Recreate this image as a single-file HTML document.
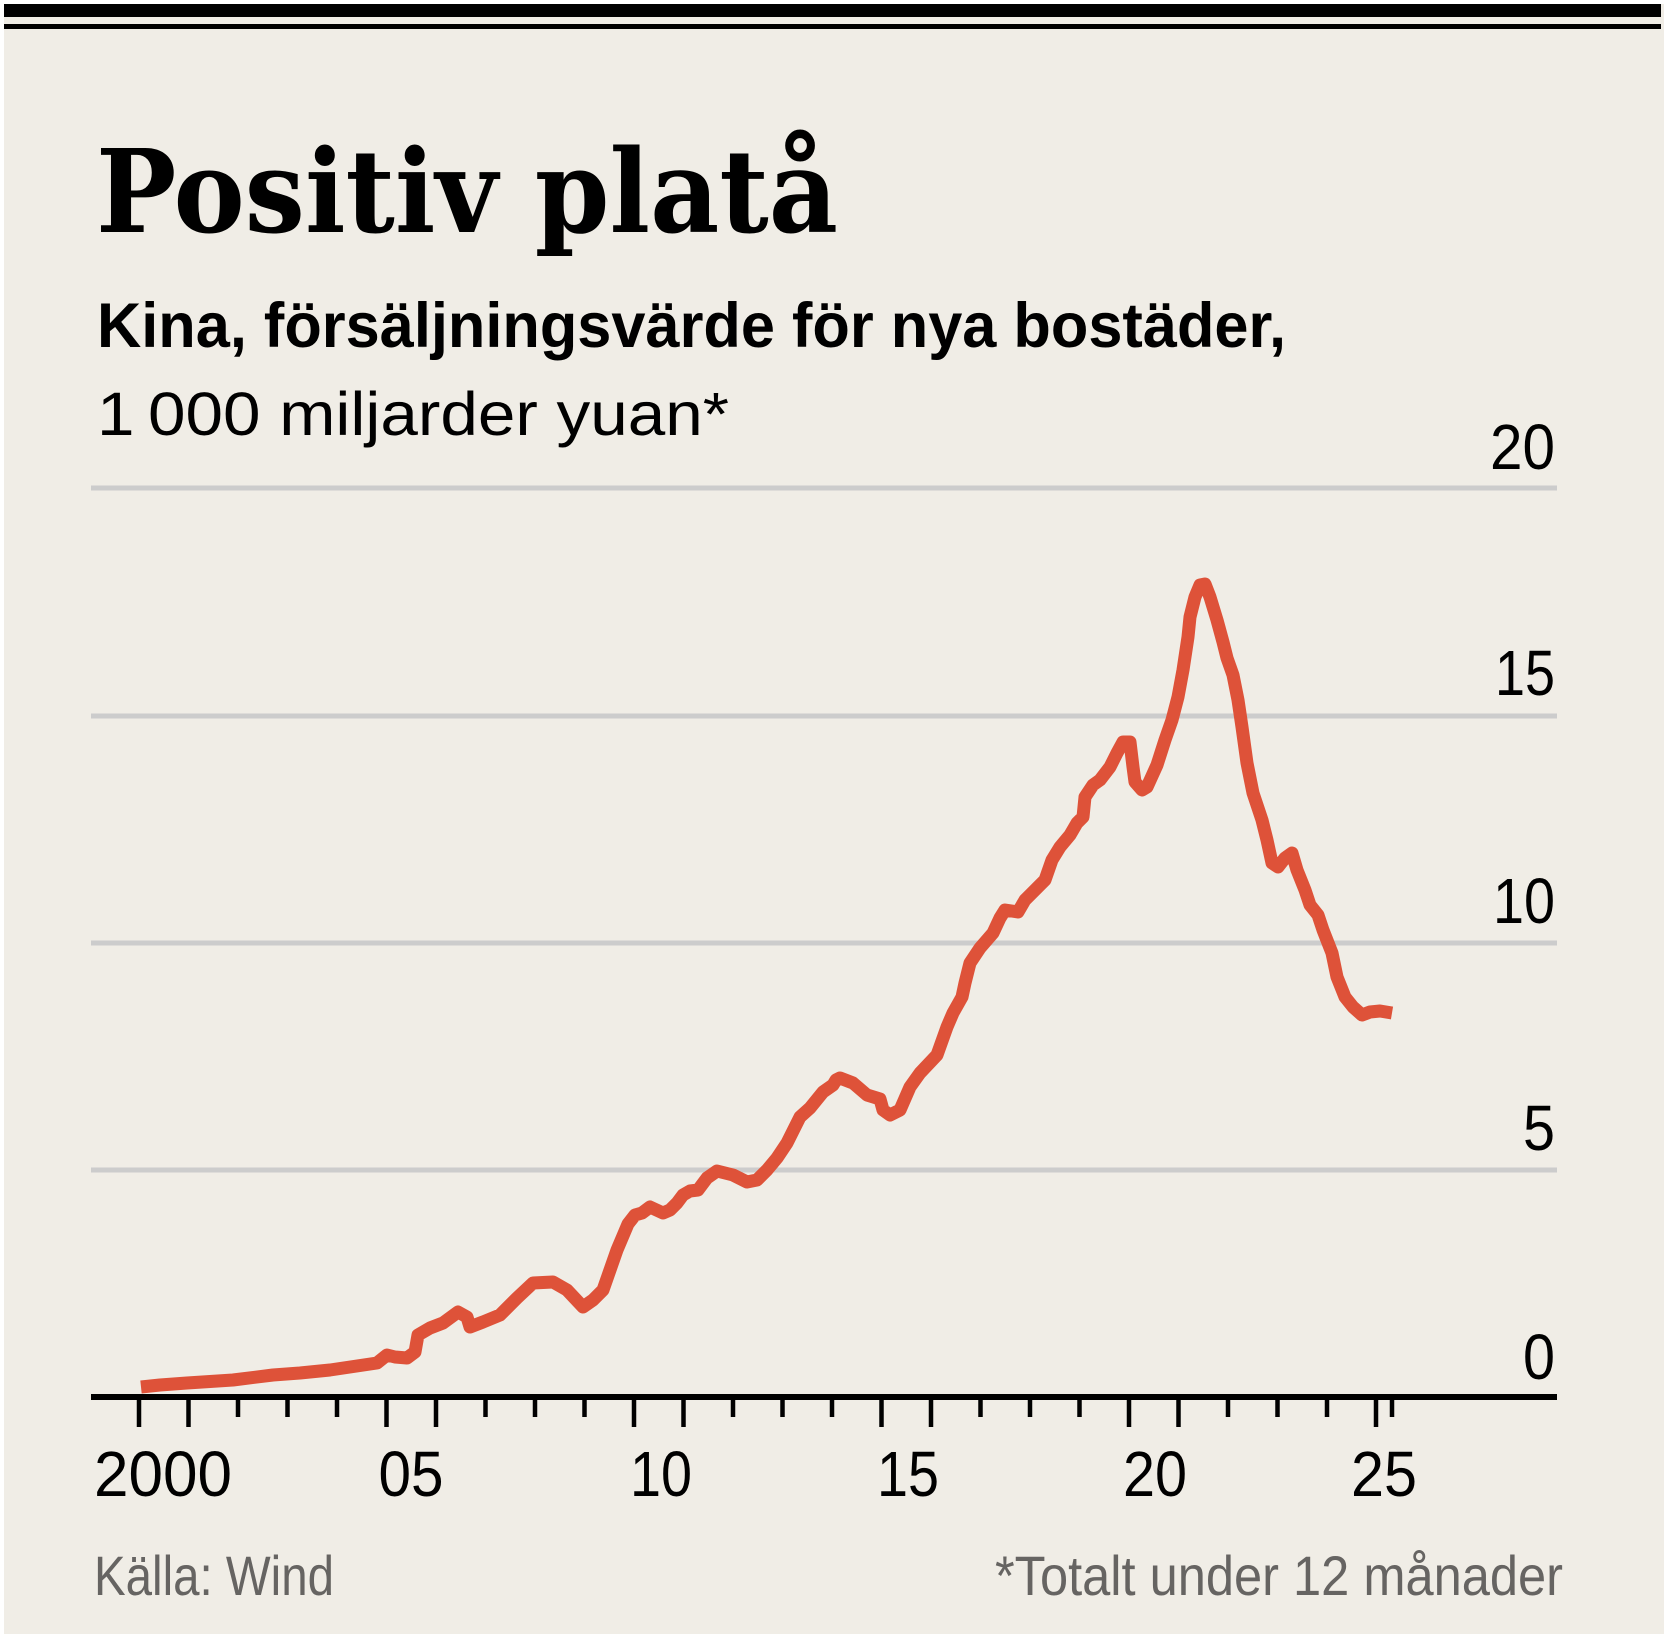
<!DOCTYPE html>
<html>
<head>
<meta charset="utf-8">
<style>
  html, body { margin: 0; padding: 0; background: #ffffff; }
  svg { display: block; }
</style>
</head>
<body>
<svg width="1670" height="1638" viewBox="0 0 1670 1638" xmlns="http://www.w3.org/2000/svg">
  <rect x="0" y="0" width="1670" height="1638" fill="#ffffff"/>
  <rect x="4" y="4" width="1660" height="1630" fill="#f0ede6"/>
  <!-- top rules -->
  <rect x="4" y="4" width="1657" height="13" fill="#000"/>
  <rect x="4" y="24" width="1657" height="5" fill="#000"/>

  <!-- title -->
  <text x="96" y="232" font-family="'DejaVu Serif', 'Liberation Serif', serif" font-weight="bold" font-size="115" textLength="742" lengthAdjust="spacingAndGlyphs" fill="#000">Positiv platå</text>
  <!-- subtitle -->
  <text x="97" y="347" font-family="'Liberation Sans', sans-serif" font-weight="bold" font-size="63" textLength="1189" lengthAdjust="spacingAndGlyphs" fill="#000">Kina, försäljningsvärde för nya bostäder,</text>
  <text x="97" y="435" font-family="'Liberation Sans', sans-serif" font-size="61" textLength="632" lengthAdjust="spacingAndGlyphs" fill="#000">1&#8201;000 miljarder yuan*</text>

  <!-- gridlines -->
  <g stroke="#cccccc" stroke-width="5">
    <line x1="91" y1="488" x2="1557" y2="488"/>
    <line x1="91" y1="716" x2="1557" y2="716"/>
    <line x1="91" y1="943" x2="1557" y2="943"/>
    <line x1="91" y1="1170" x2="1557" y2="1170"/>
  </g>

  <!-- y labels -->
  <g font-family="'Liberation Sans', sans-serif" font-size="64" fill="#000" text-anchor="end">
    <text x="1555" y="469" textLength="65" lengthAdjust="spacingAndGlyphs">20</text>
    <text x="1555" y="695" textLength="60" lengthAdjust="spacingAndGlyphs">15</text>
    <text x="1555" y="923" textLength="62" lengthAdjust="spacingAndGlyphs">10</text>
    <text x="1555" y="1150" textLength="32" lengthAdjust="spacingAndGlyphs">5</text>
    <text x="1555" y="1379" textLength="32" lengthAdjust="spacingAndGlyphs">0</text>
  </g>

  <!-- data line -->
  <polyline fill="none" stroke="#de5239" stroke-width="13" stroke-linejoin="round" stroke-linecap="butt"
    points="141,1387 160,1385 187,1383 233,1380 273,1375 300,1373 330,1370 377,1363 387,1355 395,1357 407,1358 415,1352 418,1335 430,1328 443,1323 458,1312 467,1317 470,1327 483,1322 500,1315 517,1298 533,1283 553,1282 567,1290 583,1307 593,1300 603,1290 617,1250 628,1224 635,1215 642,1213 650,1207 663,1213 670,1210 677,1203 683,1195 690,1191 698,1190 707,1178 717,1171 733,1175 747,1182 757,1180 767,1170 777,1158 787,1143 800,1117 810,1108 823,1092 833,1085 836,1080 840,1078 853,1083 867,1095 880,1099 883,1110 890,1115 900,1110 910,1087 920,1073 937,1055 947,1027 953,1013 962,997 965,983 970,963 980,948 993,933 1000,918 1005,910 1018,912 1025,900 1038,887 1045,880 1052,860 1060,847 1070,835 1077,823 1083,817 1085,797 1093,785 1100,780 1110,767 1117,753 1123,742 1130,742 1133,767 1135,782 1142,790 1147,787 1157,765 1165,740 1172,720 1178,697 1183,670 1188,637 1190,617 1195,597 1200,585 1205,584 1210,597 1217,620 1223,642 1227,658 1233,675 1238,700 1242,727 1247,763 1253,793 1262,820 1267,840 1272,863 1278,867 1285,858 1292,853 1297,870 1305,890 1310,905 1318,915 1323,930 1332,953 1337,977 1345,997 1353,1007 1362,1015 1370,1012 1380,1011 1392,1013"/>

  <!-- x axis -->
  <rect x="91" y="1394" width="1466" height="6" fill="#000"/>
  <g stroke="#000" stroke-width="4.5">
    <line x1="139" y1="1397" x2="139" y2="1427"/>
    <line x1="188.5" y1="1397" x2="188.5" y2="1427"/>
    <line x1="238" y1="1397" x2="238" y2="1417"/>
    <line x1="287.5" y1="1397" x2="287.5" y2="1417"/>
    <line x1="337" y1="1397" x2="337" y2="1417"/>
    <line x1="386.5" y1="1397" x2="386.5" y2="1427"/>
    <line x1="436" y1="1397" x2="436" y2="1427"/>
    <line x1="485.5" y1="1397" x2="485.5" y2="1417"/>
    <line x1="535" y1="1397" x2="535" y2="1417"/>
    <line x1="584.5" y1="1397" x2="584.5" y2="1417"/>
    <line x1="634" y1="1397" x2="634" y2="1427"/>
    <line x1="683.5" y1="1397" x2="683.5" y2="1427"/>
    <line x1="733" y1="1397" x2="733" y2="1417"/>
    <line x1="782.5" y1="1397" x2="782.5" y2="1417"/>
    <line x1="832" y1="1397" x2="832" y2="1417"/>
    <line x1="881.5" y1="1397" x2="881.5" y2="1427"/>
    <line x1="931" y1="1397" x2="931" y2="1427"/>
    <line x1="980.5" y1="1397" x2="980.5" y2="1417"/>
    <line x1="1030" y1="1397" x2="1030" y2="1417"/>
    <line x1="1079.5" y1="1397" x2="1079.5" y2="1417"/>
    <line x1="1129" y1="1397" x2="1129" y2="1427"/>
    <line x1="1178.5" y1="1397" x2="1178.5" y2="1427"/>
    <line x1="1228" y1="1397" x2="1228" y2="1417"/>
    <line x1="1277.5" y1="1397" x2="1277.5" y2="1417"/>
    <line x1="1327" y1="1397" x2="1327" y2="1417"/>
    <line x1="1376" y1="1397" x2="1376" y2="1427"/>
    <line x1="1392" y1="1397" x2="1392" y2="1417"/>
  </g>

  <!-- x labels -->
  <g font-family="'Liberation Sans', sans-serif" font-size="64" fill="#000" text-anchor="middle">
    <text x="163" y="1496" textLength="138" lengthAdjust="spacingAndGlyphs">2000</text>
    <text x="411" y="1496" textLength="65" lengthAdjust="spacingAndGlyphs">05</text>
    <text x="661" y="1496" textLength="62" lengthAdjust="spacingAndGlyphs">10</text>
    <text x="908" y="1496" textLength="62" lengthAdjust="spacingAndGlyphs">15</text>
    <text x="1155" y="1496" textLength="64" lengthAdjust="spacingAndGlyphs">20</text>
    <text x="1384" y="1496" textLength="66" lengthAdjust="spacingAndGlyphs">25</text>
  </g>

  <!-- footer -->
  <text x="94" y="1595" font-family="'Liberation Sans', sans-serif" font-size="56" fill="#666462" textLength="240" lengthAdjust="spacingAndGlyphs">Källa: Wind</text>
  <text x="1563" y="1595" font-family="'Liberation Sans', sans-serif" font-size="56" fill="#666462" text-anchor="end" textLength="568" lengthAdjust="spacingAndGlyphs">*Totalt under 12 månader</text>
</svg>
</body>
</html>
